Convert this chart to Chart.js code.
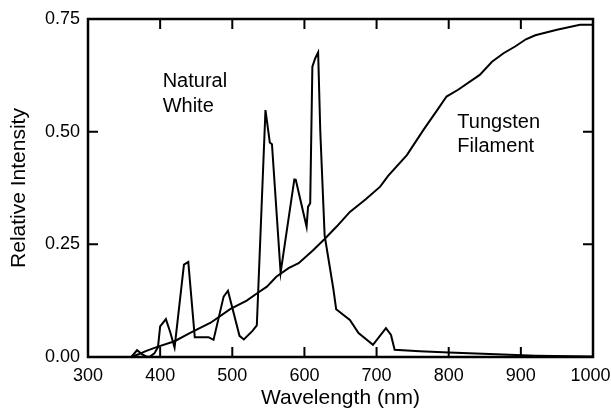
<!DOCTYPE html>
<html>
<head>
<meta charset="utf-8">
<script src="https://cdn.jsdelivr.net/npm/chart.js@4.4.1/dist/chart.umd.min.js"></script>
<style>
  html, body { margin: 0; padding: 0; background: #fff; }
  #chart { display: block; }
</style>
</head>
<body>
<canvas id="chart" width="611" height="414"></canvas>
<script>
// wavelength (nm) and relative intensity
const naturalWl = [360, 368, 375, 380, 385, 392, 397, 400, 408, 414, 420, 433, 439, 448, 467, 474, 488, 494, 510, 516, 528, 534, 546, 552, 555, 567, 586, 588, 603, 605, 608, 611, 615, 619, 622, 628, 640, 644, 663, 675, 695, 713, 720, 725, 760, 800, 866, 920, 1000];
const naturalVal = [0, 0.015, 0.006, 0.002, 0, 0.008, 0.022, 0.068, 0.084, 0.055, 0.021, 0.205, 0.211, 0.044, 0.044, 0.038, 0.134, 0.147, 0.047, 0.039, 0.058, 0.07, 0.548, 0.476, 0.472, 0.187, 0.394, 0.393, 0.289, 0.333, 0.341, 0.644, 0.663, 0.676, 0.5, 0.27, 0.152, 0.106, 0.082, 0.053, 0.027, 0.064, 0.049, 0.016, 0.013, 0.010, 0.006, 0.003, 0.001];

const tungstenWl = [360, 370, 380, 395, 420, 441, 470, 497, 520, 534, 548, 561, 578, 592, 612, 628, 645, 663, 685, 705, 716, 742, 765, 785, 797, 813, 843, 860, 876, 892, 907, 920, 950, 982, 1000];
const tungstenVal = [0, 0.006, 0.013, 0.022, 0.035, 0.053, 0.076, 0.106, 0.125, 0.141, 0.156, 0.178, 0.197, 0.208, 0.237, 0.262, 0.29, 0.322, 0.35, 0.378, 0.402, 0.448, 0.504, 0.55, 0.578, 0.593, 0.626, 0.655, 0.674, 0.689, 0.705, 0.714, 0.726, 0.737, 0.737];

const xTicks = [300, 400, 500, 600, 700, 800, 900, 1000];
const yTicks = [0, 0.25, 0.5, 0.75];

const labels = [
  { text: 'Natural', x: 403.5, y: 0.600 },
  { text: 'White', x: 403.5, y: 0.543 },
  { text: 'Tungsten', x: 812, y: 0.508 },
  { text: 'Filament', x: 812, y: 0.455 }
];

const FONT = '"Liberation Sans", Arial, Helvetica, sans-serif';

function pts(xs, ys) {
  return xs.map(function (x, i) { return { x: x, y: ys[i] }; });
}

// box + inward tick marks + text labels
const framePlugin = {
  id: 'frame',
  afterDraw(chart) {
    const ctx = chart.ctx;
    const a = chart.chartArea;
    const xs = chart.scales.x;
    const ys = chart.scales.y;
    const len = 10;
    ctx.save();
    ctx.strokeStyle = '#000';
    ctx.lineWidth = 2.5;
    ctx.strokeRect(a.left, a.top, a.right - a.left, a.bottom - a.top);
    ctx.lineWidth = 2;
    ctx.beginPath();
    xTicks.forEach(function (v) {
      if (v === xs.min || v === xs.max) return;
      const px = xs.getPixelForValue(v);
      ctx.moveTo(px, a.bottom); ctx.lineTo(px, a.bottom - len);
      ctx.moveTo(px, a.top); ctx.lineTo(px, a.top + len);
    });
    yTicks.forEach(function (v) {
      if (v === ys.min || v === ys.max) return;
      const py = ys.getPixelForValue(v);
      ctx.moveTo(a.left, py); ctx.lineTo(a.left + len, py);
      ctx.moveTo(a.right, py); ctx.lineTo(a.right - len, py);
    });
    ctx.stroke();

    ctx.fillStyle = '#000';
    ctx.font = '20px ' + FONT;
    ctx.textAlign = 'left';
    ctx.textBaseline = 'alphabetic';
    labels.forEach(function (l) {
      ctx.fillText(l.text, xs.getPixelForValue(l.x), ys.getPixelForValue(l.y));
    });
    ctx.restore();
  }
};

const lineStyle = {
  borderColor: '#000',
  borderWidth: 2,
  pointRadius: 0,
  showLine: true,
  tension: 0,
  fill: false
};

new Chart(document.getElementById('chart'), {
  type: 'scatter',
  data: {
    datasets: [
      Object.assign({ label: 'Natural White', data: pts(naturalWl, naturalVal) }, lineStyle),
      Object.assign({ label: 'Tungsten Filament', data: pts(tungstenWl, tungstenVal) }, lineStyle)
    ]
  },
  options: {
    responsive: false,
    animation: false,
    devicePixelRatio: 1,
    layout: { padding: { top: 19, right: 18, left: 0, bottom: 0 } },
    plugins: {
      legend: { display: false },
      tooltip: { enabled: false }
    },
    scales: {
      x: {
        type: 'linear',
        min: 300,
        max: 1000,
        afterBuildTicks: function (scale) {
          scale.ticks = xTicks.map(function (v) { return { value: v }; });
        },
        afterFit: function (scale) {
          scale.height = 57;
          scale.paddingLeft = 0;
          scale.paddingRight = 0;
        },
        grid: { display: false, drawTicks: false, tickLength: 0 },
        border: { display: false },
        ticks: {
          color: '#000',
          font: { family: FONT, size: 18 },
          padding: 8,
          maxRotation: 0,
          // trailing space nudges the last label left so it stays in the window
          callback: function (v) { return v === 1000 ? '1000 ' : String(v); }
        },
        title: {
          display: true,
          text: 'Wavelength (nm)',
          color: '#000',
          font: { family: FONT, size: 21 },
          padding: { top: 0, bottom: 3 }
        }
      },
      y: {
        type: 'linear',
        min: 0,
        max: 0.75,
        afterBuildTicks: function (scale) {
          scale.ticks = yTicks.map(function (v) { return { value: v }; });
        },
        afterFit: function (scale) {
          scale.width = 88;
          scale.paddingTop = 0;
          scale.paddingBottom = 0;
        },
        grid: { display: false, drawTicks: false, tickLength: 0 },
        border: { display: false },
        ticks: {
          color: '#000',
          font: { family: FONT, size: 18 },
          padding: 8,
          callback: function (v) { return v.toFixed(2); }
        },
        title: {
          display: true,
          text: 'Relative Intensity',
          color: '#000',
          font: { family: FONT, size: 21 },
          padding: { top: 7, bottom: 0 }
        }
      }
    }
  },
  plugins: [framePlugin]
});
</script>
</body>
</html>
